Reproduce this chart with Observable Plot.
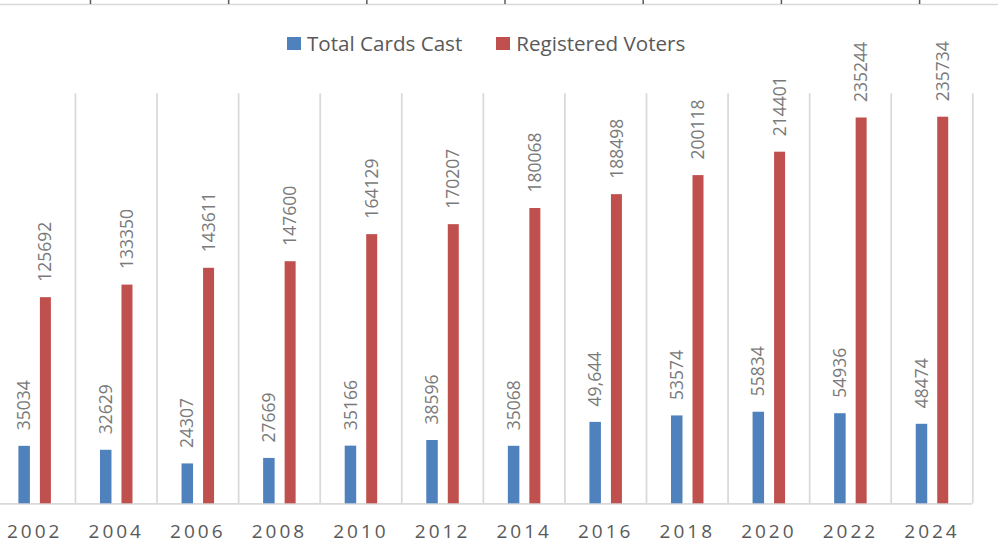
<!DOCTYPE html>
<html><head><meta charset="utf-8">
<script src="https://cdn.jsdelivr.net/npm/d3@7"></script>
<script src="https://cdn.jsdelivr.net/npm/@observablehq/plot@0.6"></script>
<style>
body{margin:0;background:#fff;font-family:"Open Sans",sans-serif;}
#wrap{position:relative;width:998px;height:560px;overflow:hidden;background:#fff;}
#chart{position:absolute;left:0;top:0;}
#top{position:absolute;left:0;top:0;}
#legend{position:absolute;left:287px;top:29px;display:flex;align-items:center;font-size:20.6px;color:#595959;white-space:nowrap;}
#legend .item{display:flex;align-items:center;}
#legend .sw{width:14px;height:13px;margin-right:6px;}
#legend .item + .item{margin-left:34px;}
#chart svg g[aria-label="x-axis tick label"] text{letter-spacing:3px;}
</style></head><body>
<div id="wrap"><div id="chart"></div><div id="top"></div><div id="legend"></div></div>
<script>
const years = ["2002","2004","2006","2008","2010","2012","2014","2016","2018","2020","2022","2024"];
const totalCards = [35034,32629,24307,27669,35166,38596,35068,49644,53574,55834,54936,48474];
const totalLabels = ["35034","32629","24307","27669","35166","38596","35068","49,644","53574","55834","54936","48474"];
const registered = [125692,133350,143611,147600,164129,170207,180068,188498,200118,214401,235244,235734];
const registeredLabels = ["125692","133350","143611","147600","164129","170207","180068","188498","200118","214401","235244","235734"];
const series = ["Total Cards Cast","Registered Voters"];
const colors = ["#4f81bd","#c0504d"];
const topTicks = [0,1,2,3,4,5,6];

const blue = years.map((y,i)=>({year:y, value:totalCards[i], label:totalLabels[i]}));
const red = years.map((y,i)=>({year:y, value:registered[i], label:registeredLabels[i]}));

const x0 = -6.6, x1 = 972.3;
const bw = (x1 - x0) / years.length;

const chart = Plot.plot({
  width: 998, height: 560,
  marginTop: 93.3, marginBottom: 56.7, marginLeft: 0, marginRight: 998 - x1,
  x: {type: "band", domain: years, range: [x0, x1], padding: 0, round: false, label: null},
  y: {domain: [0, 250000], axis: null},
  style: {fontFamily: "'Open Sans', sans-serif", color: "#595959", background: "transparent"},
  marks: [
    Plot.ruleX(years, {x: d => d, dx: bw / 2, y1: 0, y2: 250000, stroke: "#d9d9d9", strokeWidth: 1.75}),
    Plot.ruleY([0], {stroke: "#d9d9d9", strokeWidth: 1.75}),
    Plot.barY(blue, {x: "year", y: "value", fill: colors[0], insetLeft: 25, insetRight: bw - 36.5}),
    Plot.barY(red, {x: "year", y: "value", fill: colors[1], insetLeft: 46.5, insetRight: bw - 57.5}),
    Plot.text(blue, {x: "year", y: "value", text: "label", rotate: -90, textAnchor: "start", dx: -10, dy: -16, fontSize: 17.5, fill: "#7a7a7a"}),
    Plot.text(red, {x: "year", y: "value", text: "label", rotate: -90, textAnchor: "start", dx: 11.2, dy: -16, fontSize: 17.5, fill: "#7a7a7a"}),
    Plot.axisX({tickSize: 0, tickPadding: 21, fontSize: 19, label: null})
  ]
});
document.getElementById("chart").appendChild(chart);

const strip = Plot.plot({
  width: 998, height: 6,
  marginTop: 0, marginBottom: 2, marginLeft: 0, marginRight: 0,
  x: {domain: [-0.651, 6.571], axis: null},
  y: {domain: [0, 1], axis: null},
  style: {background: "transparent"},
  marks: [
    Plot.ruleY([0], {stroke: "#d9d9d9", strokeWidth: 1.5}),
    Plot.ruleX(topTicks, {x: d => d, y1: 0, y2: 1, stroke: "#595959", strokeWidth: 1.5})
  ]
});
document.getElementById("top").appendChild(strip);

const legend = document.getElementById("legend");
series.forEach((s, i) => {
  const item = document.createElement("div");
  item.className = "item";
  const sw = document.createElement("span");
  sw.className = "sw";
  sw.style.background = colors[i];
  const t = document.createElement("span");
  t.textContent = s;
  item.appendChild(sw); item.appendChild(t);
  legend.appendChild(item);
});
</script>
</body></html>
